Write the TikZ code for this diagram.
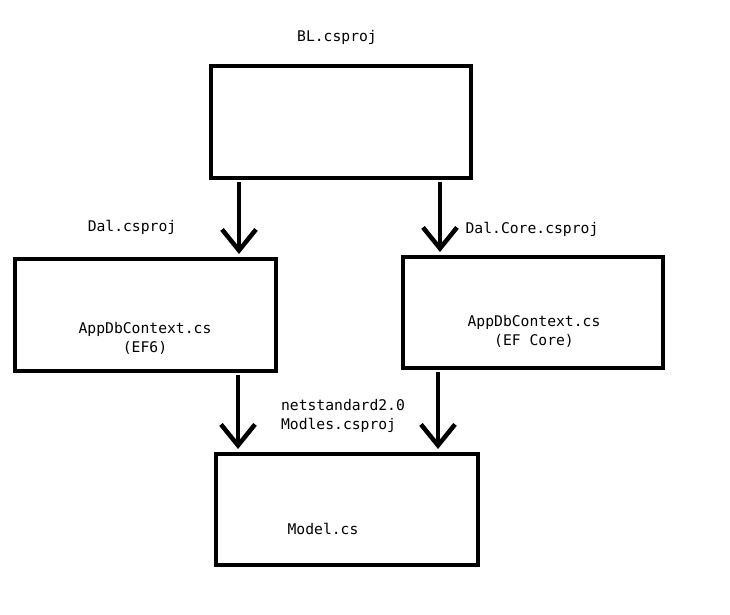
\documentclass[tikz,border=0pt]{standalone}
\usepackage{fontspec}
\setmonofont{DejaVu Sans Mono}
\usetikzlibrary{arrows.meta, positioning}

\begin{document}
\begin{tikzpicture}[
  x=1pt, y=-1pt,
  proj/.style={draw=black, line width=4pt, outer sep=0pt, inner sep=0pt,
    minimum width=260pt, minimum height=112pt},
  lbl/.style={font=\ttfamily\fontsize{14.7}{19}\selectfont, inner sep=0pt, align=center},
  dep/.style={-{Straight Barb[length=21pt, width=34pt, line width=4.5pt]},
    line width=4.5pt, shorten <=4pt, shorten >=5pt}]
  \useasboundingbox[fill=white] (0,0) rectangle (730,615);

  % project boxes
  \node[proj] (bl) at (341,122) {};
  \node[proj, minimum width=261pt] (dal) at (145.5,315) {};
  \node[proj, minimum height=111pt] (dalcore) at (533,312.5) {};
  \node[proj, minimum width=262pt, minimum height=111pt] (model) at (347,509.5) {};

  % project names
  \node[lbl] (blname) at (337,37) {BL.csproj};
  \node[lbl] (dalname) at (132,227) {Dal.csproj};
  \node[lbl] (dalcorename) at (532,229) {Dal.Core.csproj};
  \node[lbl, align=left] (modelname) at (343,416) {netstandard2.0\\Modles.csproj};

  % contents
  \node[lbl] (dalctx) at (145,338) {AppDbContext.cs\\(EF6)};
  \node[lbl] (corectx) at (534,331) {AppDbContext.cs\\(EF Core)};
  \node[lbl] (modelcs) at (323,529) {Model.cs};

  % references
  \coordinate (a1) at (239,0);
  \coordinate (a2) at (440,0);
  \coordinate (a3) at (238,0);
  \coordinate (a4) at (438,0);
  \draw[dep] (bl.south -| a1) -- (dal.north -| a1);
  \draw[dep] (bl.south -| a2) -- (dalcore.north -| a2);
  \draw[dep] (dal.south -| a3) -- (model.north -| a3);
  \draw[dep] (dalcore.south -| a4) -- (model.north -| a4);
\end{tikzpicture}
\end{document}
